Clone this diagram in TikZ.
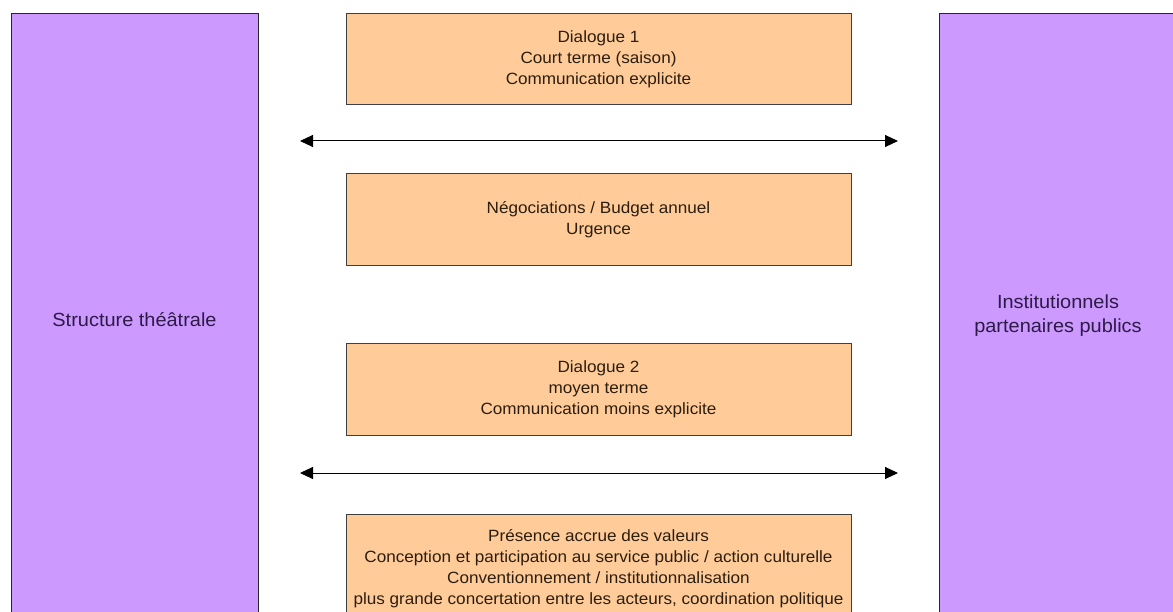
\documentclass[tikz,border=0pt]{standalone}
\usepackage{fontspec}
\setmainfont[FakeStretch=1.05]{Liberation Sans}
\usetikzlibrary{arrows.meta}
\definecolor{lavender}{HTML}{CC99FF}
\definecolor{peach}{HTML}{FFCC99}
\definecolor{sidetext}{HTML}{2E1A47}
\definecolor{boxtext}{HTML}{2B1D10}
\tikzset{
 actor/.style={draw=black!85, fill=lavender, text=sidetext, line width=1pt,
   minimum height=612pt, inner sep=0pt, align=center,
   font=\fontsize{19}{24}\selectfont},
 topic/.style={draw=black!75, fill=peach, text=boxtext, line width=1pt,
   minimum width=505pt, minimum height=91pt, inner sep=0pt, align=center,
   font=\fontsize{16.3}{21}\selectfont},
 link/.style={{Triangle[length=13pt,width=12pt]}-{Triangle[length=13pt,width=12pt]}, line width=1pt}
}
\begin{document}
\begin{tikzpicture}[x=1pt,y=-1pt]
 \useasboundingbox[fill=white] (0,0) rectangle (1173,612);
 % the two partners
 \node[actor, minimum width=247pt] (theatre) at (134.5,320) {Structure théâtrale};
 \node[actor, minimum width=238pt, minimum height=604pt] (partners) at (1058,316) {Institutionnels\\partenaires publics};
 % what goes between them
 \node[topic] (dialogue1) at (598.5,59.5) {Dialogue 1\\Court terme (saison)\\Communication explicite};
 \node[topic, minimum height=92pt] (budget) at (598.5,220) {Négociations / Budget annuel\\Urgence};
 \node[topic] (dialogue2) at (598.5,389.5) {Dialogue 2\\moyen terme\\Communication moins explicite};
 \node[topic, minimum height=110pt] (values) at (598.5,569) {Présence accrue des valeurs\\Conception et participation au service public / action culturelle\\Conventionnement / institutionnalisation\\plus grande concertation entre les acteurs, coordination politique};
 % exchanges
 \coordinate (shortL) at (300,141);
 \coordinate (shortR) at (898,141);
 \coordinate (midL) at (300,473);
 \coordinate (midR) at (898,473);
 \draw[link] (shortL) -- (shortR);
 \draw[link] (midL) -- (midR);
\end{tikzpicture}
\end{document}
